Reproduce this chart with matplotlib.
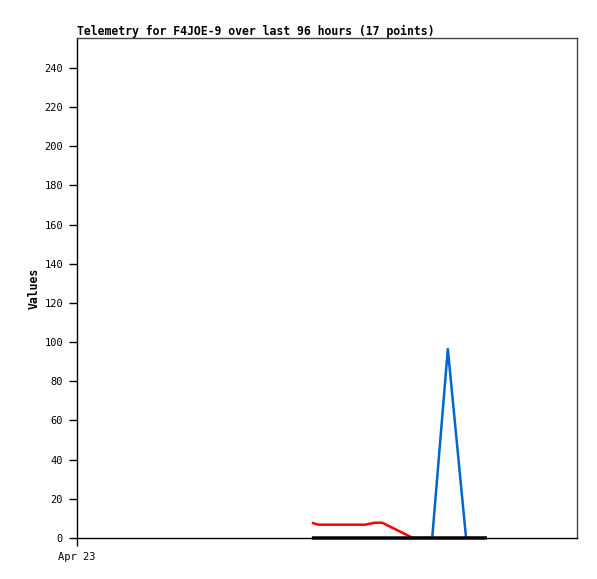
import matplotlib
matplotlib.use("Agg")
import matplotlib.pyplot as plt

# hours since Apr 23 00:00
hours = [45.1, 46.3, 48.6, 51.5, 55.3, 57.2, 58.6, 64.5, 66.0, 66.6, 67.3,
         68.2, 71.2, 74.7, 76.6, 77.7, 78.7]
red_vals = [7.8, 6.8, 6.8, 6.8, 6.8, 7.8, 7.8, 0, 0, 0, 0, 0, 0, 0, 0, 0, 0]
blue_vals = [0, 0, 0, 0, 0, 0, 0, 0, 0, 0, 0, 0, 96.5, 0, 0, 0, 0]
black_vals = [0] * 17
yticks = list(range(0, 241, 20))
xtick_pos = [0]
xtick_labels = ["Apr 23"]

W, H = 597, 579
fig = plt.figure(figsize=(W / 100, H / 100), dpi=100)
ax = fig.add_axes([77 / W, (H - 538) / H, 500 / W, 500 / H])

ax.plot(hours, blue_vals, color="#0066cc", lw=1.8, zorder=2, solid_capstyle="butt")
ax.plot(hours, red_vals, color="#ff0000", lw=1.8, zorder=3, solid_capstyle="butt")
ax.plot(hours, black_vals, color="#000000", lw=2.4, zorder=10, clip_on=False,
        solid_capstyle="butt", snap=False)

ax.set_xlim(0, 96)
ax.set_ylim(0, 255.3)
ax.set_yticks(yticks)
ax.set_yticklabels([str(v) for v in yticks], family="DejaVu Sans Mono", fontsize=7.5)
ax.set_xticks(xtick_pos)
ax.set_xticklabels(xtick_labels, family="DejaVu Sans Mono", fontsize=7.5)
ax.tick_params(axis="both", direction="out", length=6, width=1, pad=4, colors="black")

for s in ["top", "right"]:
    ax.spines[s].set_color("#444444")
for s in ["left", "bottom"]:
    ax.spines[s].set_color("black")
for s in ax.spines.values():
    s.set_linewidth(1)

ax.set_title("Telemetry for F4JOE-9 over last 96 hours (17 points)", loc="left",
             family="DejaVu Sans Mono", fontweight="bold", fontsize=8.3, pad=2)
ax.set_ylabel("Values", family="DejaVu Sans Mono", fontweight="bold", fontsize=8.3, labelpad=3)

fig.savefig("out.png", dpi=100)
